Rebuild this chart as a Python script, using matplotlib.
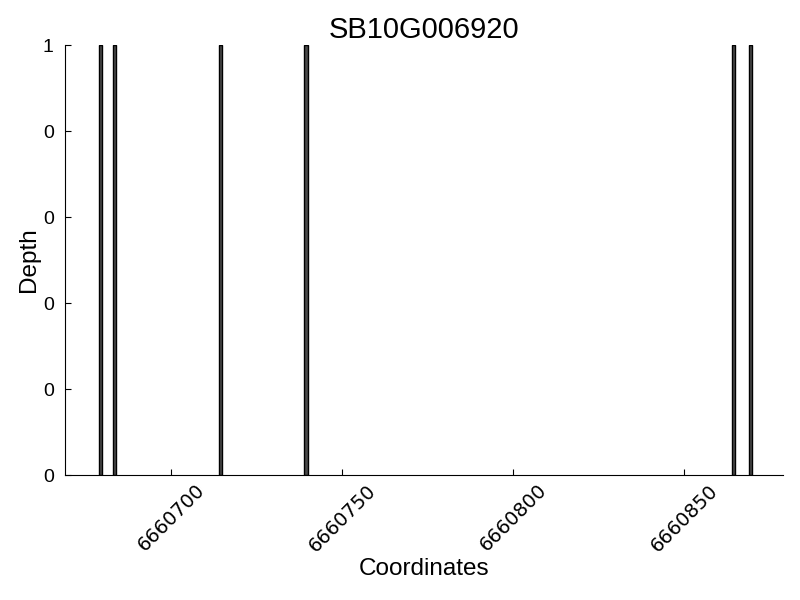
import matplotlib
matplotlib.use('Agg')
import matplotlib.pyplot as plt
from matplotlib.ticker import FormatStrFormatter

# data
gene = 'SB10G006920'
positions = [6660679, 6660683, 6660714, 6660739, 6660864, 6660869]
depths = [1, 1, 1, 1, 1, 1]
xticks = [6660700, 6660750, 6660800, 6660850]

plt.rcParams['font.family'] = ['Liberation Sans', 'DejaVu Sans']

fig = plt.figure(figsize=(8, 6), dpi=100)
ax = fig.add_axes([0.081, 0.208, 0.898, 0.717])

ax.bar(positions, depths, width=1, align='edge', facecolor='#4a4a4a',
       edgecolor='black', linewidth=1)

ax.set_xlim(6660669, 6660879)
ax.set_ylim(0, 1)
ax.set_xticks(xticks)
ax.set_yticks([0, 0.2, 0.4, 0.6, 0.8, 1.0])
ax.yaxis.set_major_formatter(FormatStrFormatter('%d'))
ax.xaxis.set_major_formatter(FormatStrFormatter('%d'))

# only left and bottom spines, ticks pointing in
for side in ['top', 'right']:
	ax.spines[side].set_visible(False)
ax.tick_params(direction='in', length=4, top=False, right=False)
ax.tick_params(axis='y', labelsize=14, pad=8)
ax.tick_params(axis='x', pad=4)
for lbl in ax.get_xticklabels():
	lbl.set_rotation(45)
	lbl.set_fontfamily('DejaVu Sans')
	lbl.set_fontsize(14)

ax.set_title(gene, fontsize=21, pad=5)
ax.set_xlabel('Coordinates', fontsize=17.5, labelpad=2)
ax.set_ylabel('Depth', fontsize=17.5, labelpad=2)

fig.savefig('out.png', dpi=100)
